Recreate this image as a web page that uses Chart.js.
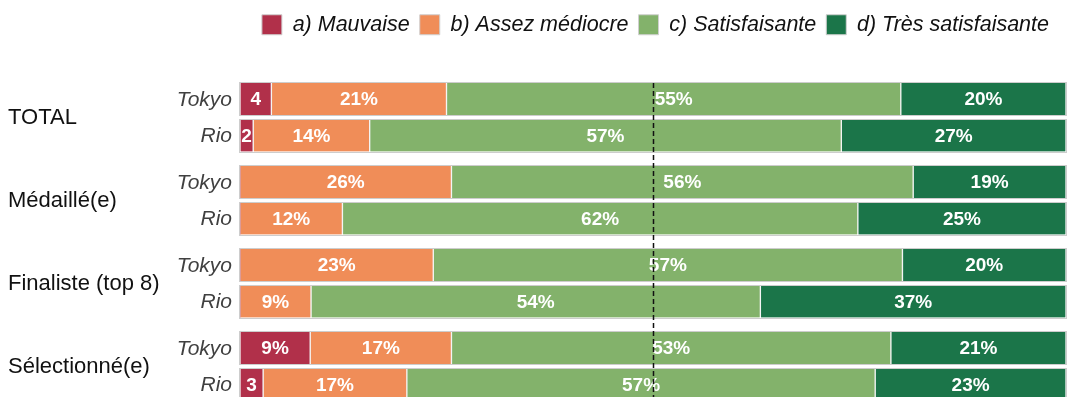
<!DOCTYPE html>
<html>
<head>
<meta charset="utf-8">
<script src="https://cdn.jsdelivr.net/npm/chart.js@4.4.1/dist/chart.umd.min.js"></script>
<style>
  html, body { margin: 0; padding: 0; background: #ffffff; }
  canvas { display: block; }
</style>
</head>
<body>
<canvas id="chart" width="1067" height="397"></canvas>
<script>
// Categories
const groups = ['TOTAL', 'Médaillé(e)', 'Finaliste (top 8)', 'Sélectionné(e)'];
const editions = ['Tokyo', 'Rio'];

// Share of answers (%), one value per row: Tokyo then Rio for each group
const mauvaise       = [3.8, 1.6, 0, 0, 0, 0, 8.5, 2.8];
const assezMediocre  = [21.2, 14.1, 25.6, 12.4, 23.4, 8.6, 17.1, 17.4];
const satisfaisante  = [55.0, 57.1, 55.9, 62.4, 56.8, 54.4, 53.2, 56.7];
const tresSatisf     = [20.0, 27.2, 18.5, 25.2, 19.8, 37.0, 21.2, 23.1];

const seriesNames = ['a) Mauvaise', 'b) Assez médiocre', 'c) Satisfaisante', 'd) Très satisfaisante'];
const seriesValues = [mauvaise, assezMediocre, satisfaisante, tresSatisf];
const seriesColors = ['#b1304a', '#f08d58', '#83b26b', '#1b7549'];
const midLine = 50;

// Row layout on the vertical (linear) axis: two rows per group, a small gap between groups
const GROUP_STEP = 2.274;
const rowPos = [];
const rowEdition = [];
groups.forEach((g, gi) => {
  editions.forEach((e, ei) => {
    rowPos.push(gi * GROUP_STEP + ei);
    rowEdition.push(e);
  });
});

const FONT = "'Liberation Sans', Arial, Helvetica, sans-serif";
const ROW_PX = 36.5;        // pixel distance between two rows
const FIRST_ROW_PX = 99;    // centre of the first row

const decor = {
  id: 'decor',
  beforeDraw(chart) {
    // keep the legend a little away from the right edge
    if (chart.legend) { chart.legend.right = chart.width - 8; }
  },
  afterDatasetsDraw(chart) {
    const { ctx, chartArea } = chart;
    const xs = chart.scales.x;
    const first = chart.getDatasetMeta(0).data;

    ctx.save();
    // light outline around each full bar
    ctx.strokeStyle = '#cdcdcd';
    ctx.lineWidth = 1;
    const l = Math.round(xs.getPixelForValue(0)) - 0.5;
    const r = Math.round(xs.getPixelForValue(100)) + 0.5;
    first.forEach(bar => {
      const t = Math.round(bar.y - bar.height / 2) - 0.5;
      const b = Math.round(bar.y + bar.height / 2) + 0.5;
      ctx.strokeRect(l, t, r - l, b - t);
    });

    // value labels inside the segments
    ctx.fillStyle = '#ffffff';
    ctx.font = 'bold 19px ' + FONT;
    ctx.textAlign = 'center';
    ctx.textBaseline = 'middle';
    chart.data.datasets.forEach((ds, di) => {
      chart.getDatasetMeta(di).data.forEach((bar, i) => {
        const v = ds.data[i].x;
        if (!v) return;
        const n = Math.round(v);
        const txt = v < 5 ? String(n) : n + '%';
        ctx.fillText(txt, (bar.x + bar.base) / 2, bar.y + 1);
      });
    });

    // edition names next to each bar
    ctx.fillStyle = '#404040';
    ctx.font = 'italic 21px ' + FONT;
    ctx.textAlign = 'right';
    first.forEach((bar, i) => {
      ctx.fillText(rowEdition[i], chartArea.left - 8, bar.y + 1);
    });

    // group names on the left
    ctx.fillStyle = '#111111';
    ctx.font = '22px ' + FONT;
    ctx.textAlign = 'left';
    groups.forEach((g, gi) => {
      const y = (first[gi * 2].y + first[gi * 2 + 1].y) / 2;
      ctx.fillText(g, 8, y + 1);
    });

    // dashed reference line at 50 %
    const xm = Math.round(xs.getPixelForValue(midLine)) + 0.5;
    const top = first[0].y - first[0].height / 2;
    ctx.strokeStyle = '#111111';
    ctx.lineWidth = 1.5;
    ctx.setLineDash([5, 3]);
    ctx.beginPath();
    ctx.moveTo(xm, top);
    ctx.lineTo(xm, chartArea.bottom);
    ctx.stroke();
    ctx.restore();
  }
};

const chart = new Chart(document.getElementById('chart'), {
  type: 'bar',
  data: {
    datasets: seriesNames.map((name, si) => ({
      label: name,
      data: rowPos.map((p, i) => ({ x: seriesValues[si][i], y: p })),
      backgroundColor: seriesColors[si],
      borderColor: '#f4f4f4',
      borderWidth: { left: 1, right: 1, top: 0, bottom: 0 },
      borderSkipped: false,
      barThickness: 32
    }))
  },
  options: {
    responsive: false,
    animation: false,
    devicePixelRatio: 1,
    indexAxis: 'y',
    layout: { padding: { top: 4, right: 1, left: 240, bottom: 0 } },
    scales: {
      x: { type: 'linear', stacked: true, min: 0, max: 100, display: false, offset: false },
      y: { type: 'linear', stacked: true, reverse: true, min: -1, max: 8, display: false, offset: false }
    },
    plugins: {
      tooltip: { enabled: false },
      legend: {
        position: 'top',
        align: 'end',
        labels: {
          boxWidth: 20, boxHeight: 20, padding: 10, color: '#111111',
          font: { family: FONT, size: 21.5, style: 'italic' },
          generateLabels(c) {
            return Chart.defaults.plugins.legend.labels.generateLabels(c)
              .map(it => Object.assign(it, { strokeStyle: '#d0d0d0', lineWidth: 1 }));
          }
        }
      }
    }
  },
  plugins: [decor]
});

// fit the row axis to the plotting area so rows sit at a fixed pitch
const area = chart.chartArea;
const yMin = -(FIRST_ROW_PX - area.top) / ROW_PX;
chart.options.scales.y.min = yMin;
chart.options.scales.y.max = yMin + (area.bottom - area.top) / ROW_PX;
chart.update();
</script>
</body>
</html>
